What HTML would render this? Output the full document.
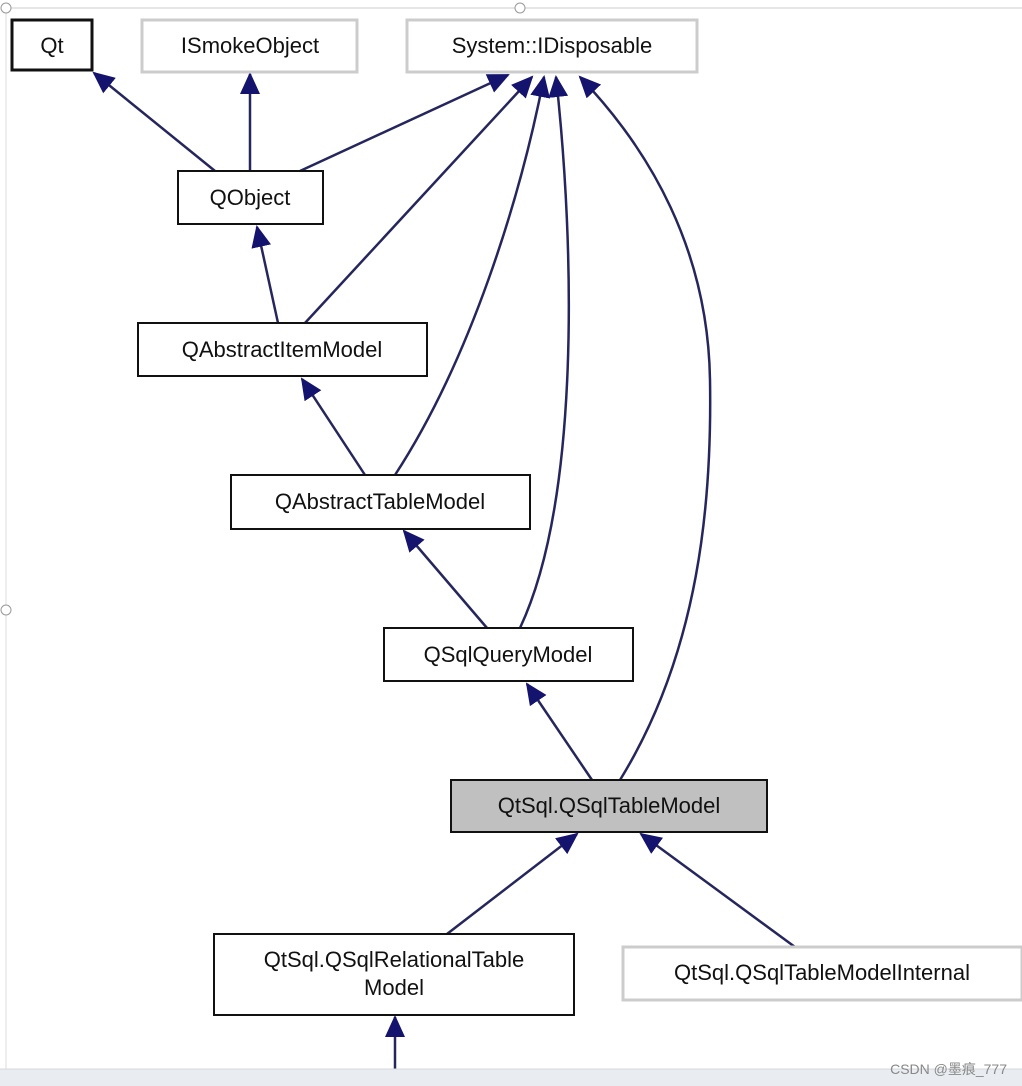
<!DOCTYPE html>
<html><head><meta charset="utf-8"><style>
html,body{margin:0;padding:0;background:#fff;width:1022px;height:1086px;overflow:hidden}
text{font-family:"Liberation Sans",sans-serif;font-size:22px;fill:#111}
</style></head><body>
<svg width="1022" height="1086" viewBox="0 0 1022 1086" xmlns="http://www.w3.org/2000/svg">
<defs>
<marker id="a" markerWidth="22" markerHeight="20" refX="20" refY="10" orient="auto" markerUnits="userSpaceOnUse">
<path d="M0,0 L22,10 L0,20 Z" fill="#14146e"/>
</marker>
</defs>
<line x1="6" y1="8" x2="1022" y2="8" stroke="#ccc" stroke-width="1"/>
<line x1="6" y1="8" x2="6" y2="1069" stroke="#ddd" stroke-width="1"/>
<circle cx="6" cy="8" r="5" fill="#fff" stroke="#999"/>
<circle cx="520" cy="8" r="5" fill="#fff" stroke="#999"/>
<circle cx="6" cy="610" r="5" fill="#fff" stroke="#999"/>
<g stroke="#26265e" stroke-width="2.5" fill="none">
<line x1="215" y1="171" x2="94" y2="73" marker-end="url(#a)"/>
<line x1="250" y1="171" x2="250" y2="74" marker-end="url(#a)"/>
<line x1="300" y1="171" x2="508" y2="75" marker-end="url(#a)"/>
<line x1="305" y1="323" x2="532" y2="77" marker-end="url(#a)"/>
<path d="M395,475 C470,360 520,200 544,77" marker-end="url(#a)"/>
<path d="M520,628 C580,500 575,250 556,77" marker-end="url(#a)"/>
<path d="M620,780 C700,650 712,500 710,380 C708,250 650,150 580,77" marker-end="url(#a)"/>
<line x1="278" y1="323" x2="257" y2="227" marker-end="url(#a)"/>
<line x1="365" y1="475" x2="302" y2="379" marker-end="url(#a)"/>
<line x1="487" y1="628" x2="404" y2="531" marker-end="url(#a)"/>
<line x1="592" y1="780" x2="527" y2="684" marker-end="url(#a)"/>
<line x1="447" y1="934" x2="577" y2="834" marker-end="url(#a)"/>
<line x1="795" y1="947" x2="641" y2="834" marker-end="url(#a)"/>
<line x1="395" y1="1069" x2="395" y2="1017" marker-end="url(#a)"/>
</g>
<g stroke-width="2">
<rect x="12" y="20" width="80" height="50" fill="#fff" stroke="#111" stroke-width="3"/>
<rect x="142" y="20" width="215" height="52" fill="#fff" stroke="#ccc" stroke-width="3"/>
<rect x="407" y="20" width="290" height="52" fill="#fff" stroke="#ccc" stroke-width="3"/>
<rect x="178" y="171" width="145" height="53" fill="#fff" stroke="#111"/>
<rect x="138" y="323" width="289" height="53" fill="#fff" stroke="#111"/>
<rect x="231" y="475" width="299" height="54" fill="#fff" stroke="#111"/>
<rect x="384" y="628" width="249" height="53" fill="#fff" stroke="#111"/>
<rect x="451" y="780" width="316" height="52" fill="#c0c0c0" stroke="#111"/>
<rect x="214" y="934" width="360" height="81" fill="#fff" stroke="#111"/>
<rect x="623" y="947" width="399" height="53" fill="#fff" stroke="#ccc" stroke-width="3"/>
</g>
<g text-anchor="middle">
<text x="52" y="53">Qt</text>
<text x="250" y="53">ISmokeObject</text>
<text x="552" y="53">System::IDisposable</text>
<text x="250" y="205">QObject</text>
<text x="282" y="357">QAbstractItemModel</text>
<text x="380" y="509">QAbstractTableModel</text>
<text x="508" y="662">QSqlQueryModel</text>
<text x="609" y="813">QtSql.QSqlTableModel</text>
<text x="394" y="967">QtSql.QSqlRelationalTable</text>
<text x="394" y="995">Model</text>
<text x="822" y="980">QtSql.QSqlTableModelInternal</text>
</g>
<rect x="0" y="1069" width="1022" height="17" fill="#e9edf1"/>
<line x1="0" y1="1069" x2="1022" y2="1069" stroke="#d4d8dc"/>
<text x="1007" y="1074" text-anchor="end" style="font-size:14px;fill:#888;font-family:'Liberation Sans','Noto Sans CJK SC',sans-serif">CSDN @墨痕_777</text>
</svg>
</body></html>
